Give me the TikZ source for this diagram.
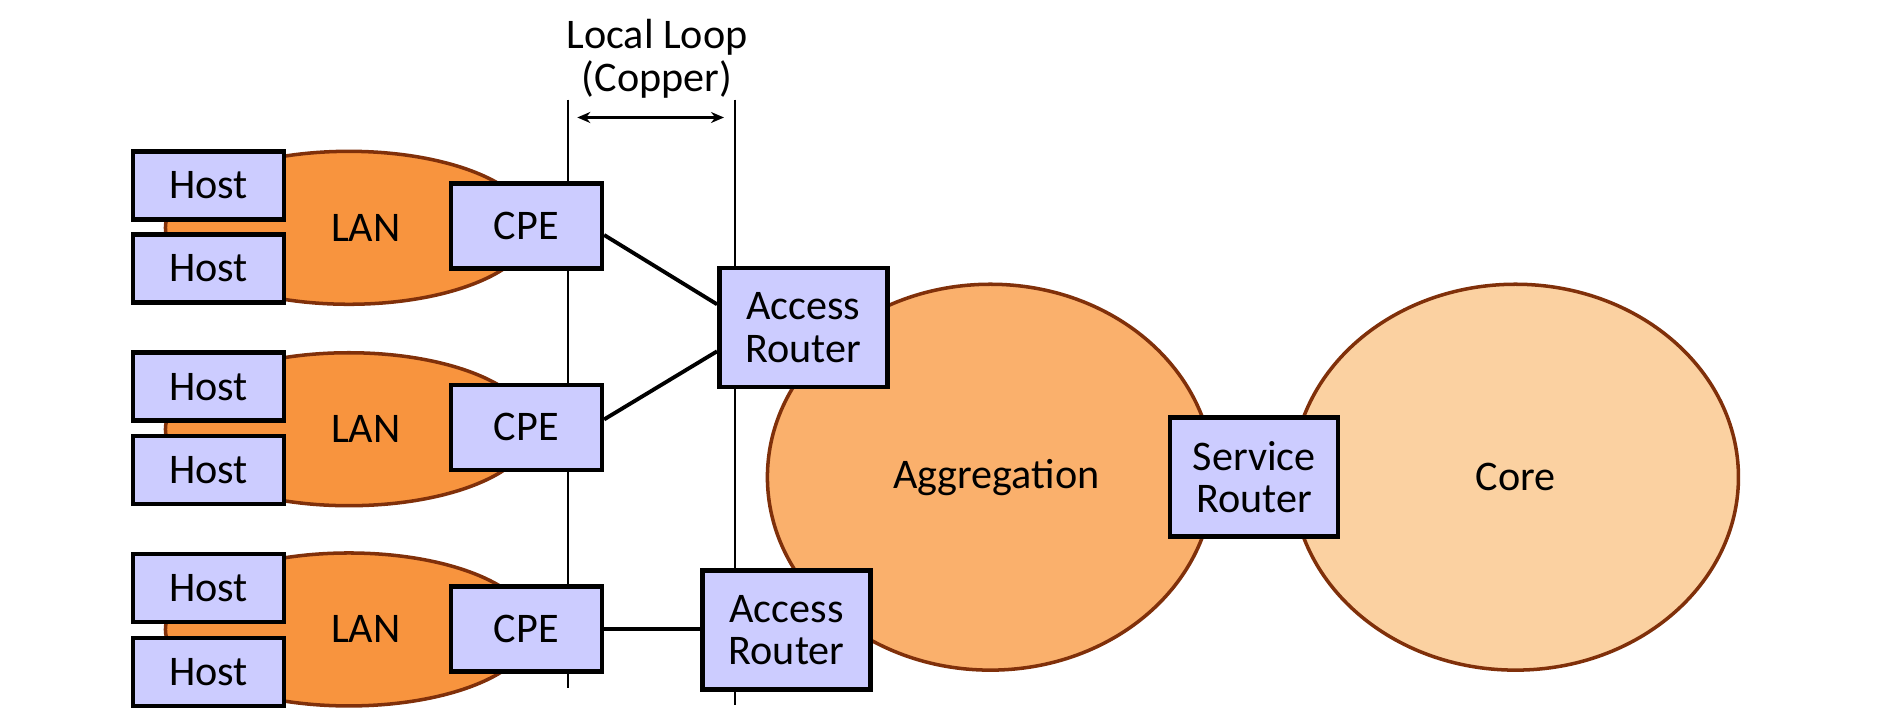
\documentclass[tikz,border=0pt]{standalone}
\usepackage{fontspec}
\setmainfont{Carlito}
\usetikzlibrary{positioning,arrows.meta,shapes.geometric}
\definecolor{lanorange}{RGB}{248, 148, 62}
\definecolor{aggorange}{RGB}{250, 176, 108}
\definecolor{corepeach}{RGB}{251, 209, 161}
\definecolor{cloudbrown}{RGB}{128, 48, 10}
\definecolor{boxlilac}{RGB}{204, 204, 255}

\begin{document}
\begin{tikzpicture}[x=0.01199cm, y=-0.01199cm,
        font=\fontsize{12}{12.2}\selectfont,
        box node/.style={rectangle, draw=black, line width=1.3pt, fill=boxlilac, inner sep=0pt, align=center},
        host node/.style={box node, minimum width=1.51cm, minimum height=0.68cm},
        cpe node/.style={box node, minimum width=1.51cm, minimum height=0.85cm},
        router node/.style={box node, minimum width=1.68cm, minimum height=1.19cm},
        cloud node/.style={ellipse, draw=cloudbrown, line width=1pt, inner sep=0pt},
        lan node/.style={cloud node, fill=lanorange, minimum width=3.67cm, minimum height=1.53cm},
        big node/.style={cloud node, minimum width=4.46cm, minimum height=3.86cm},
        link/.style={draw=black, line width=1.1pt},
        loop line/.style={draw=black, line width=0.5pt},
        span arrow/.style={{Stealth[length=1.3mm, width=1.1mm]}-{Stealth[length=1.3mm, width=1.1mm]}, line width=0.6pt}]

            \useasboundingbox (0, 0) rectangle (1568, 605);

            % Clouds behind everything
            \node[lan node, label={[xshift=0.17cm]center:LAN}] (lan1) at (291, 190) {};
            \node[lan node, label={[xshift=0.17cm]center:LAN}] (lan2) at (291, 358) {};
            \node[lan node, label={[xshift=0.17cm]center:LAN}] (lan3) at (291, 525) {};
            \node[big node, fill=aggorange, label={[xshift=0.06cm]center:Aggregation}] (agg) at (826, 398) {};
            \node[big node, fill=corepeach] (core) at (1264, 398) {Core};

            % Local loop marks
            \coordinate (loopLt) at (474, 83);
            \coordinate (loopLb) at (474, 574);
            \coordinate (loopRt) at (613, 83);
            \coordinate (loopRb) at (613, 588);
            \coordinate (spanL) at (474, 98);
            \coordinate (spanR) at (613, 98);
            \draw[loop line] (loopLt) -- (loopLb);
            \draw[loop line] (loopRt) -- (loopRb);
            \draw[span arrow, shorten <=0.09cm, shorten >=0.11cm] (spanL) -- (spanR);
            \node[align=center] (looptext) at (548, 49) {Local Loop\\(Copper)};

            % Hosts, CPEs and routers
            \node[host node] (h1) at (174, 154.5) {Host};
            \node[host node] (h2) at (174, 224) {Host};
            \node[host node] (h3) at (174, 322.5) {Host};
            \node[host node] (h4) at (174, 392) {Host};
            \node[host node] (h5) at (174, 490.5) {Host};
            \node[host node] (h6) at (174, 560.5) {Host};

            \node[cpe node] (cpe1) at (439, 188.5) {CPE};
            \node[cpe node] (cpe2) at (439, 356.5) {CPE};
            \node[cpe node] (cpe3) at (439, 524.5) {CPE};

            \node[router node] (ar1) at (670, 273) {Access\\Router};
            \node[router node] (ar2) at (656, 525.5) {Access\\Router};
            \node[router node] (sr) at (1046, 398) {Service\\Router};

            % Copper links
            \path
                ([yshift=-0.09cm]cpe1.east) edge[link] ([yshift=0.23cm]ar1.west)
                ([yshift=0.08cm]cpe2.east) edge[link] ([yshift=-0.24cm]ar1.west)
                (cpe3.east) edge[link] (cpe3.east -| ar2.west);

    \end{tikzpicture}
\end{document}
